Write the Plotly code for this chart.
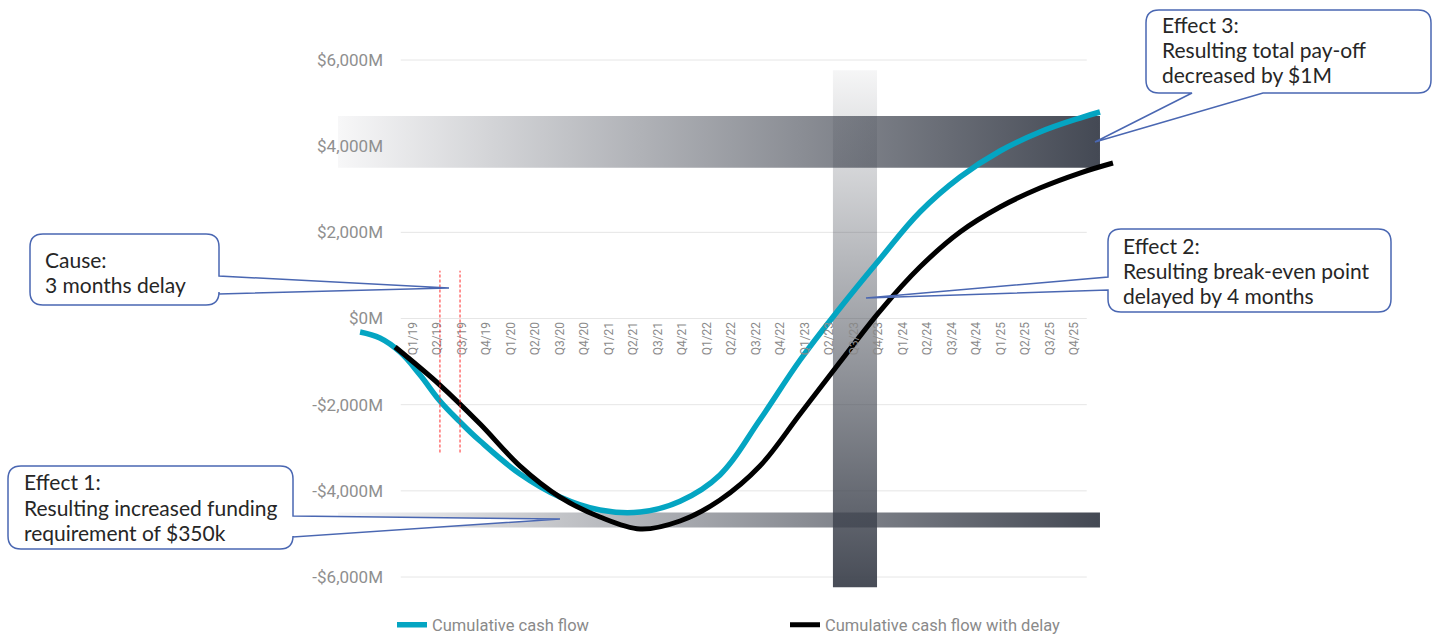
import plotly.graph_objects as go

# ---------------- data ----------------
quarters = ["Q1/19", "Q2/19", "Q3/19", "Q4/19", "Q1/20", "Q2/20", "Q3/20", "Q4/20",
            "Q1/21", "Q2/21", "Q3/21", "Q4/21", "Q1/22", "Q2/22", "Q3/22", "Q4/22",
            "Q1/23", "Q2/23", "Q3/23", "Q4/23", "Q1/24", "Q2/24", "Q3/24", "Q4/24",
            "Q1/25", "Q2/25", "Q3/25", "Q4/25"]
quarter_pos = list(range(len(quarters)))

y_tick_values = [6000, 4000, 2000, 0, -2000, -4000, -6000]
y_tick_labels = ["$6,000M", "$4,000M", "$2,000M", "$0M", "-$2,000M", "-$4,000M", "-$6,000M"]

# cumulative cash flow ($M) vs position on the quarter axis (0 = Q1/19)
cf_x = [-2.16, -1.35, -0.53, 0.29, 1.10, 1.92, 2.74, 4.37, 6.0, 7.63, 9.27, 10.90,
        12.53, 14.16, 15.80, 17.43, 19.06, 20.69, 22.33, 23.96, 25.59, 27.22, 28.04]
cf_y = [-313, -453, -778, -1311, -1915, -2400, -2844, -3609, -4143, -4445, -4491, -4240,
        -3630, -2350, -963, 244, 1381, 2472, 3284, 3888, 4329, 4654, 4793]

cfd_x = [-0.73, 1.10, 2.74, 4.37, 6.0, 7.63, 9.27, 10.90, 12.53, 14.16, 15.80, 17.43,
         19.06, 20.69, 22.33, 23.96, 25.59, 27.22, 28.57]
cfd_y = [-662, -1544, -2449, -3424, -4143, -4607, -4886, -4700, -4213, -3424, -2217, -1010,
         174, 1195, 2008, 2588, 3029, 3377, 3609]

# highlighted ranges
payoff_band = [3500, 4700]          # total pay-off difference
funding_band = [-4850, -4500]       # funding requirement difference
band_x = [-3.06, 28.04]
breakeven_band = [17.14, 18.94]     # break-even delay
breakeven_y = [-6240, 5760]
delay_lines = [1.10, 1.92]          # 3 months delay
delay_y = [-3110, 1110]

# ---------------- layout geometry ----------------
W, H = 1437, 636
ML, MR, MT, MB = 330, 307, 38, 0
PW, PH = W - ML - MR, H - MT - MB
Y_RANGE = [-7369, 6511]


def px(x):
    return (x - ML) / PW


def py(y):
    return (MT + PH - y) / PH


fig = go.Figure()

# gradient bands
grad = [[0, "rgba(247,247,248,1)"], [1, "rgba(68,73,84,1)"]]
fig.add_trace(go.Scatter(
    x=[band_x[0], band_x[1], band_x[1], band_x[0], band_x[0]],
    y=[payoff_band[0], payoff_band[0], payoff_band[1], payoff_band[1], payoff_band[0]],
    mode="lines", line=dict(width=0), fill="toself", showlegend=False, hoverinfo="skip",
    fillgradient=dict(type="horizontal", colorscale=grad),
))
fig.add_trace(go.Scatter(
    x=[band_x[0], band_x[1], band_x[1], band_x[0], band_x[0]],
    y=[funding_band[0], funding_band[0], funding_band[1], funding_band[1], funding_band[0]],
    mode="lines", line=dict(width=0), fill="toself", showlegend=False, hoverinfo="skip",
    fillgradient=dict(type="horizontal", colorscale=grad),
))
fig.add_trace(go.Scatter(
    x=[breakeven_band[0], breakeven_band[1], breakeven_band[1], breakeven_band[0], breakeven_band[0]],
    y=[breakeven_y[0], breakeven_y[0], breakeven_y[1], breakeven_y[1], breakeven_y[0]],
    mode="lines", line=dict(width=0), fill="toself", showlegend=False, hoverinfo="skip",
    fillgradient=dict(type="vertical", start=breakeven_y[0], stop=breakeven_y[1],
                      colorscale=[[0, "rgba(62,67,78,0.95)"], [1, "rgba(62,67,78,0.05)"]]),
))

# curves
fig.add_trace(go.Scatter(
    x=cf_x, y=cf_y, mode="lines", name="Cumulative cash flow",
    line=dict(color="#04a5c2", width=5.5, shape="spline", smoothing=1.1),
))
fig.add_trace(go.Scatter(
    x=cfd_x, y=cfd_y, mode="lines", name="Cumulative cash flow with delay",
    line=dict(color="#000000", width=5, shape="spline", smoothing=1.0),
))

shapes = []
# gridlines over the quarter range
for v in y_tick_values:
    shapes.append(dict(type="line", xref="x", yref="y", x0=-0.5, x1=len(quarters) - 0.5,
                       y0=v, y1=v, line=dict(color="#e6e6e6", width=1), layer="below"))
# delay markers
for d in delay_lines:
    shapes.append(dict(type="line", xref="x", yref="y", x0=d, x1=d, y0=delay_y[0], y1=delay_y[1],
                       line=dict(color="#ff2a2a", width=1, dash="3px,2px"), layer="above"))


def callout(x0, y0, x1, y1, side, a, b, tip, r=13):
    def P(x, y):
        return f"{px(x):.5f},{py(y):.5f}"

    s = f"M {P(x0 + r, y0)} L {P(x1 - r, y0)} Q {P(x1, y0)} {P(x1, y0 + r)} "
    if side == "right":
        s += f"L {P(x1, a)} L {P(*tip)} L {P(x1, b)} "
    s += f"L {P(x1, y1 - r)} Q {P(x1, y1)} {P(x1 - r, y1)} "
    if side == "bottom":
        s += f"L {P(b, y1)} L {P(*tip)} L {P(a, y1)} "
    s += f"L {P(x0 + r, y1)} Q {P(x0, y1)} {P(x0, y1 - r)} "
    if side == "left":
        s += f"L {P(x0, b)} L {P(*tip)} L {P(x0, a)} "
    s += f"L {P(x0, y0 + r)} Q {P(x0, y0)} {P(x0 + r, y0)} Z"
    return dict(type="path", xref="paper", yref="paper", path=s, fillcolor="white",
                line=dict(color="#4a67b2", width=1.5), layer="above")


shapes.append(callout(30, 234, 219, 305, "right", 276, 294, (449, 288)))
shapes.append(callout(8, 466, 293, 549, "right", 516, 537, (560, 519)))
shapes.append(callout(1108, 229, 1391, 312, "left", 277, 290, (866, 298)))
shapes.append(callout(1146, 10, 1431, 93, "bottom", 1192, 1263, (1095, 142)))

callout_texts = [
    (43, 259, ["Cause:", "3 months delay"]),
    (22, 482, ["Effect 1:", "Resulting increased funding", "requirement of $350k"]),
    (1121, 245, ["Effect 2:", "Resulting break-even point", "delayed by 4 months"]),
    (1160, 25, ["Effect 3:", "Resulting total pay-off", "decreased by $1M"]),
]
annotations = []
for x, y, lines in callout_texts:
    for k, t in enumerate(lines):
        annotations.append(dict(x=px(x), y=py(y + 25 * k), xref="paper", yref="paper",
                                xanchor="left", yanchor="middle", align="left",
                                showarrow=False, text=t,
                                font=dict(family="Lato", size=21, color="#262626")))

xmin = (ML - 413) / 24.5
xmax = (ML + PW - 413) / 24.5

fig.update_layout(
    width=W, height=H, autosize=False,
    margin=dict(l=ML, r=MR, t=MT, b=MB, autoexpand=False),
    paper_bgcolor="white", plot_bgcolor="white",
    font=dict(family="Roboto", color="#8a8a8a"),
    xaxis=dict(range=[xmin, xmax], tickmode="array", tickvals=quarter_pos, ticktext=quarters,
               tickangle=-90, showgrid=False, zeroline=False, showline=False,
               anchor="free", position=py(318.5), tickfont=dict(size=12, color="#8a8a8a"),
               ticklabelstandoff=0, automargin=False),
    yaxis=dict(range=Y_RANGE, tickmode="array", tickvals=y_tick_values, ticktext=y_tick_labels,
               showgrid=False, zeroline=False, showline=False,
               anchor="free", position=px(401), tickfont=dict(size=17, color="#8f8f8f"),
               ticklabelstandoff=18, automargin=False),
    legend=dict(orientation="h", x=px(392), y=py(625), xanchor="left", yanchor="middle",
                entrywidth=348, entrywidthmode="pixels",
                font=dict(size=16.5, color="#8a8a8a"), bgcolor="rgba(0,0,0,0)"),
    shapes=shapes,
    annotations=annotations,
)

fig.write_html("out.html")
